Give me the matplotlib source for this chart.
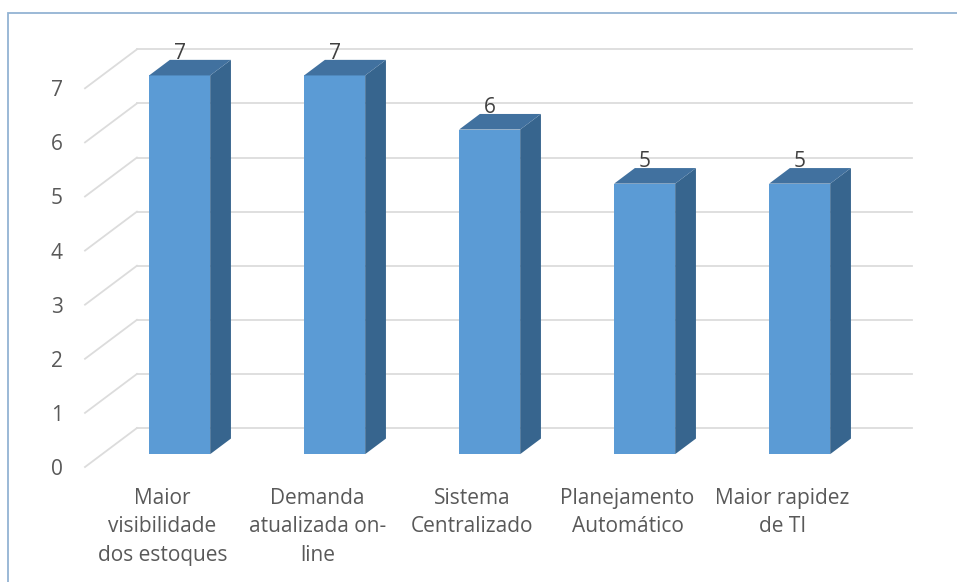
import matplotlib.pyplot as plt
from matplotlib.patches import Polygon, Rectangle

# data
categorias = ["Maior\nvisibilidade\ndos estoques",
              "Demanda\natualizada on-\nline",
              "Sistema\nCentralizado",
              "Planejamento\nAutomático",
              "Maior rapidez\nde TI"]
valores = [7, 7, 6, 5, 5]
yticks = list(range(0, 8))

# fake 3d: depth offset of the back wall in data units
ddx, ddy = 0.335, 0.72
f0, f1 = 0.33, 0.73      # front / back of the bars inside the depth
largura = 0.394

cor_frente = "#5b9bd5"
cor_lado = "#37658e"
cor_topo = "#41719f"
cor_grade = "#dcdcdc"
cor_texto = "#595959"

plt.rcParams["font.family"] = ["Open Sans", "DejaVu Sans"]

W, H = 957, 582
fig = plt.figure(figsize=(W / 100, H / 100), dpi=100)
fig.patch.set_facecolor("white")

# chart border (only left/top visible)
fig.patches.append(Rectangle((8 / W, -0.1), 1.2, 1 - 13 / H + 0.1,
                             transform=fig.transFigure, fill=False,
                             edgecolor="#93b3d3", lw=1.3))

ax = fig.add_axes([85 / W, (H - 467) / H, 775 / W, 8 * 54.1 / H])
ax.set_xlim(-0.5, 4.5)
ax.set_ylim(0, 8)
for s in ax.spines.values():
    s.set_visible(False)
ax.patch.set_visible(False)

# gridlines: back wall + left wall diagonals
for k in yticks:
    ax.plot([-0.5 + ddx, 4.5 + ddx], [k + ddy, k + ddy], color=cor_grade,
            lw=1.3, clip_on=False, zorder=1)
    ax.plot([-0.5, -0.5 + ddx], [k, k + ddy], color=cor_grade,
            lw=1.3, clip_on=False, zorder=1)

xs = list(range(len(valores)))
x_frente = [x + f0 * ddx for x in xs]
ax.bar(x_frente, valores, width=largura, bottom=f0 * ddy, color=cor_frente,
       zorder=3)

dx = (f1 - f0) * ddx
dy = (f1 - f0) * ddy
for xf, v in zip(x_frente, valores):
    esq, dir_ = xf - largura / 2, xf + largura / 2
    base = f0 * ddy
    topo = v + f0 * ddy
    lado = Polygon([(dir_, base), (dir_ + dx, base + dy), (dir_ + dx, topo + dy),
                    (dir_, topo)], closed=True, facecolor=cor_lado,
                   edgecolor="none", zorder=3, clip_on=False)
    tampa = Polygon([(esq, topo), (dir_, topo), (dir_ + dx, topo + dy),
                     (esq + dx, topo + dy)], closed=True, facecolor=cor_topo,
                    edgecolor="none", zorder=3, clip_on=False)
    ax.add_patch(lado)
    ax.add_patch(tampa)
    ax.text(xf, topo + dy - 0.07, str(v), ha="center", va="bottom",
            fontsize=15, color="#404040", zorder=4)

ax.set_yticks(yticks)
ax.set_yticklabels([str(k) for k in yticks], fontsize=15, color=cor_texto)
ax.set_xticks(xs)
ax.set_xticklabels(categorias, fontsize=15, color=cor_texto,
                   linespacing=1.47, va="top")
ax.tick_params(axis="both", length=0)
ax.tick_params(axis="y", pad=16)
ax.tick_params(axis="x", pad=15)

fig.savefig("out.png", dpi=100, facecolor="white")
